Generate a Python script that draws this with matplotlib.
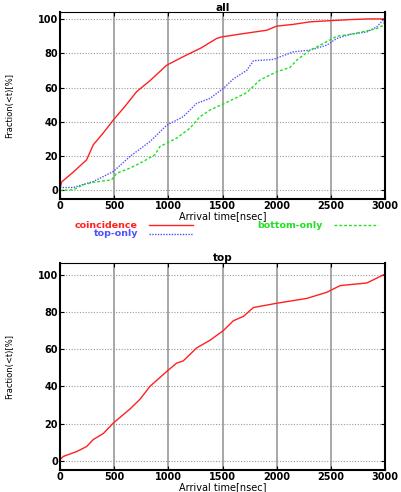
import matplotlib.pyplot as plt
from matplotlib.lines import Line2D

# 读取数据
coin_t = [0, 15, 123, 246, 308, 400, 492, 600, 708, 831, 985, 1138, 1300, 1446, 1492,
          1700, 1908, 2000, 2150, 2308, 2500, 2677, 2850, 3000]
coin_y = [0.4, 4.9, 10.7, 17.8, 26.6, 33.5, 41, 49, 57.6, 64, 73, 78, 83, 88.6, 89.5,
          91.5, 93.4, 95.8, 96.8, 98.3, 99, 99.6, 100, 100]

toponly_t = [0, 123, 308, 492, 646, 831, 985, 1138, 1262, 1385, 1508, 1600, 1723, 1785,
             1969, 2154, 2308, 2462, 2554, 2677, 2831, 2923, 2985, 3000]
toponly_y = [1.7, 1.7, 5.2, 11, 19.8, 28.5, 38, 43, 50.8, 53.7, 59.5, 65, 70, 75.6,
             76.4, 80.8, 81.8, 84.7, 88.6, 91, 92.4, 95.3, 99.6, 100]

botonly_t = [0, 123, 215, 308, 477, 523, 646, 769, 877, 923, 1077, 1200, 1292, 1385, 1508,
             1723, 1846, 2000, 2123, 2185, 2308, 2431, 2554, 2677, 2831, 2923, 2985, 3000]
botonly_y = [0, 0.4, 3.3, 4.7, 6.2, 10, 13, 16.9, 20.8, 25.6, 30.5, 36.3, 43, 46.9, 50.4,
             57, 64.4, 69.2, 71.7, 76, 81.8, 85.7, 89.9, 91, 93, 94.4, 96.3, 100]

top_t = [0, 31, 154, 246, 308, 400, 492, 646, 738, 831, 985, 1077, 1138, 1262, 1385, 1446,
         1508, 1600, 1692, 1785, 2000, 2277, 2462, 2585, 2831, 2923, 2985, 3000]
top_y = [0.5, 2.3, 4.9, 7.6, 11.4, 14.6, 20.2, 27.8, 33, 40, 48, 52.5, 53.7, 60.7, 64.8, 67.4,
         70, 75.3, 77.6, 82.4, 84.7, 87.3, 90.6, 94.2, 95.6, 98.2, 100, 100]

xticks = [0, 500, 1000, 1500, 2000, 2500, 3000]
yticks = [0, 20, 40, 60, 80, 100]

RED = '#ff2020'
BLUE = '#5050ff'
GREEN = '#20e020'
tick_font = dict(fontsize=7, fontweight='bold')

fig = plt.figure(figsize=(4.02, 4.92), dpi=100)
ax1 = fig.add_axes([0.149, 0.5955, 0.809, 0.380])
ax2 = fig.add_axes([0.149, 0.0447, 0.809, 0.4213])


def style(ax, title, ylim):
    ax.set_xlim(0, 3000)
    ax.set_ylim(*ylim)
    ax.set_xticks(xticks)
    ax.set_yticks(yticks)
    ax.set_xticklabels([str(t) for t in xticks], **tick_font)
    ax.set_yticklabels([str(t) for t in yticks], **tick_font)
    ax.tick_params(direction='in', length=3, top=True, right=True, pad=1.5)
    for x in xticks[1:-1]:
        ax.axvline(x, color='#a0a0a0', lw=1.3, zorder=0)
    for y in yticks:
        ax.axhline(y, color='#999999', lw=0.8, ls=(0, (1, 1.5)), zorder=0)
    for s in ['left', 'bottom', 'right']:
        ax.spines[s].set_linewidth(1.5)
    ax.spines['top'].set_linewidth(0.8)
    ax.set_title(title, fontsize=7.5, fontweight='bold', pad=1)
    ax.set_xlabel('Arrival time[nsec]', fontsize=7, labelpad=0)
    ax.set_ylabel('Fraction(<t)[%]', fontsize=6, family=['Liberation Sans Narrow', 'DejaVu Sans'])
    ax.yaxis.set_label_coords(-0.14, 0.5)


style(ax1, 'all', (-5, 104))
ax1.plot(coin_t, coin_y, color=RED, lw=1.0)
ax1.plot(toponly_t, toponly_y, color=BLUE, lw=1.0, ls=(0, (1, 1)))
ax1.plot(botonly_t, botonly_y, color=GREEN, lw=1.0, ls=(0, (2, 1.5)))

style(ax2, 'top', (-5, 106.5))
ax2.plot(top_t, top_y, color=RED, lw=1.0)

# 图例 (gnuplot style: text, then sample line)
W, H = 402.0, 492.0
legend_rows = [('coincidence', RED, '-', 138, 225, 149, 193),
               ('top-only', BLUE, (0, (1, 1)), 138, 234, 149, 193),
               ('bottom-only', GREEN, (0, (2, 1.5)), 323, 225, 334, 378)]
for label, c, ls, xt, yt, x0, x1 in legend_rows:
    fig.text(xt / W, 1 - yt / H, label, color=c, ha='right', va='center', fontsize=6.8,
             fontweight='bold')
    fig.add_artist(Line2D([x0 / W, x1 / W], [1 - yt / H, 1 - yt / H], color=c, lw=1.0, ls=ls,
                          transform=fig.transFigure))

fig.savefig('out.png', dpi=100)
